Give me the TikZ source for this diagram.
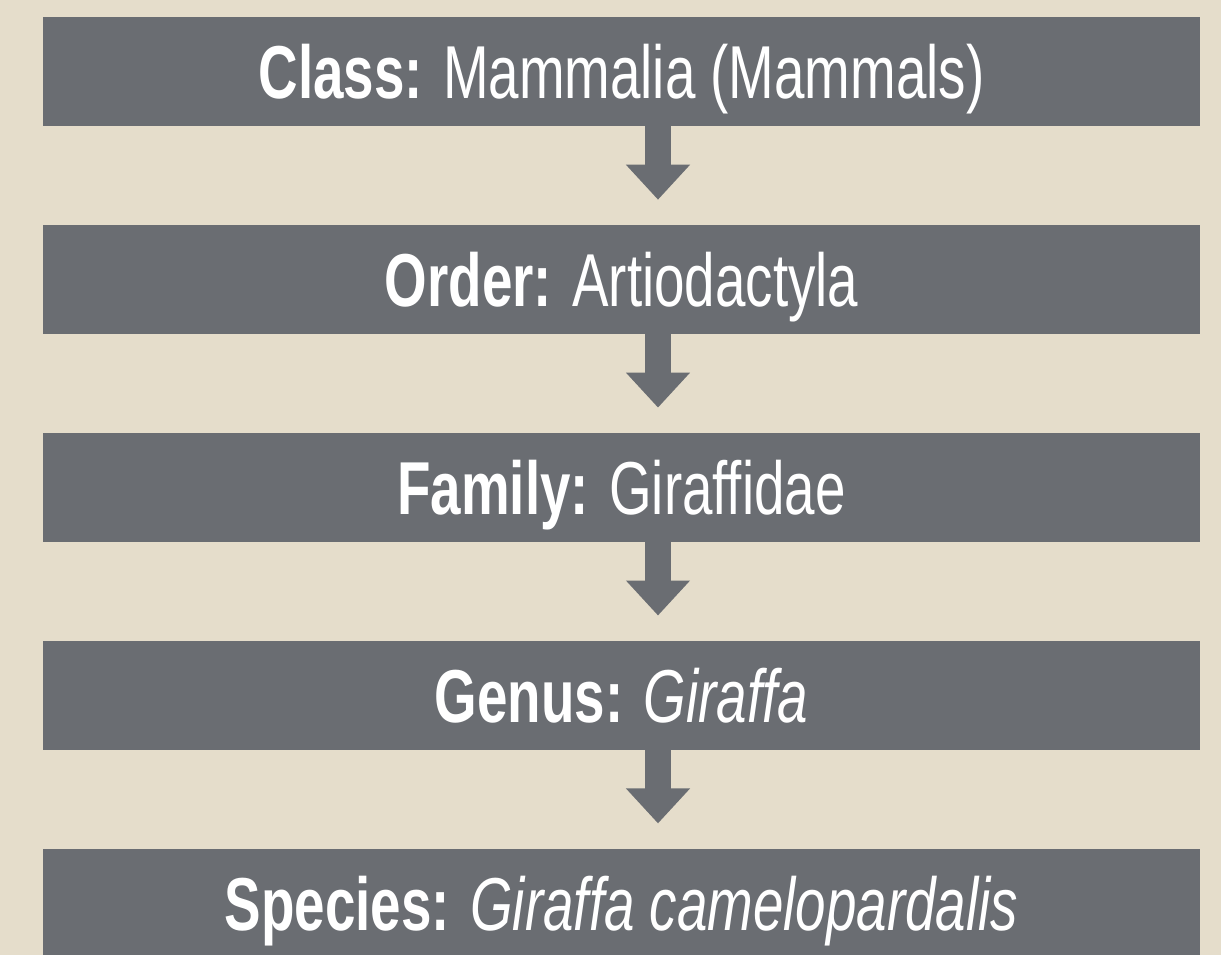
\documentclass[tikz,border=0pt]{standalone}
\usepackage{fontspec}
\setmainfont{Liberation Sans}[FakeStretch=0.73]
\usetikzlibrary{positioning,arrows.meta}
\definecolor{sand}{HTML}{E5DDCB}
\definecolor{slate}{HTML}{6A6D72}
\tikzset{
  rank/.style={fill=slate, text=white, minimum width=1157pt, minimum height=109pt,
    inner sep=0pt, text height=54pt, text depth=0pt,
    font=\fontsize{75}{80}\selectfont},
  down/.style={draw=slate, line width=26pt,
    -{Triangle[width=62pt,length=35pt]}, shorten >=25pt}
}
\begin{document}
\begin{tikzpicture}[x=1pt, y=-1pt, node distance=98.5pt]
  % Fondo
  \fill[sand] (0,0) rectangle (1221,955);
  \clip (0,0) rectangle (1221,955);
  \useasboundingbox (0,0) rectangle (1221,955);

  % Cajas de la jerarquia
  \node[rank] (class) at (621.5,71.5) {\textbf{Class:} Mammalia (Mammals)};
  \node[rank, below=of class] (order) {\textbf{Order:} Artiodactyla};
  \node[rank, below=of order] (family) {\textbf{Family:} Giraffidae};
  \node[rank, below=of family] (genus) {\textbf{Genus:} \textit{Giraffa}};
  \node[rank, below=of genus] (species) {\textbf{Species:} \textit{Giraffa camelopardalis}};

  % Flechas
  \coordinate (axis) at (658,0);
  \foreach \from/\to in {class/order,order/family,family/genus,genus/species} {
    \draw[down] (\from.south -| axis) -- (\to.north -| axis);
  }
\end{tikzpicture}
\end{document}
